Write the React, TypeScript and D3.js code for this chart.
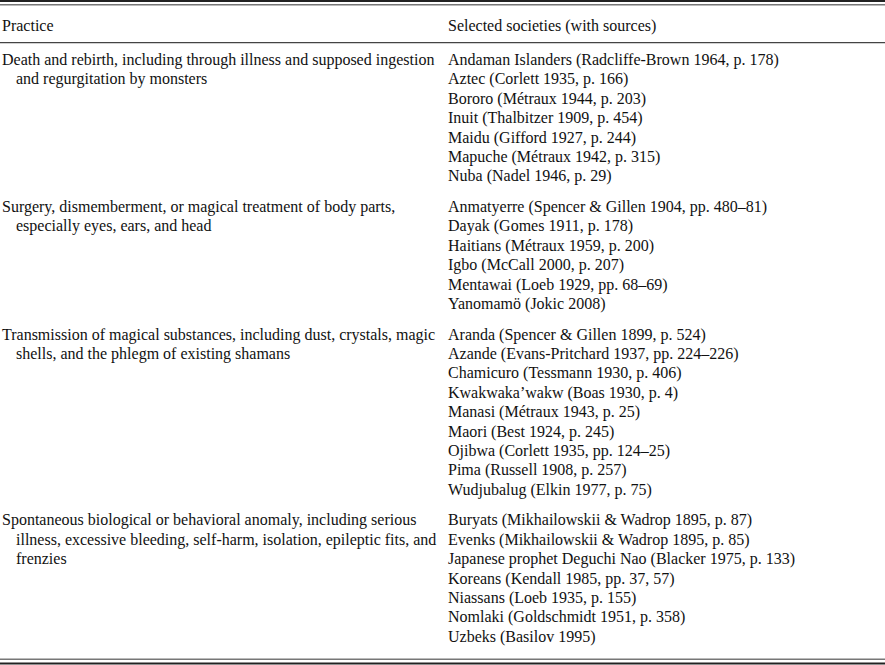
import React, { useEffect, useRef } from 'react'
import * as d3 from 'd3'

const headers = ['Practice', 'Selected societies (with sources)']

const practices = [
  ['Death and rebirth, including through illness and supposed ingestion', 'and regurgitation by monsters'],
  ['Surgery, dismemberment, or magical treatment of body parts,', 'especially eyes, ears, and head'],
  ['Transmission of magical substances, including dust, crystals, magic', 'shells, and the phlegm of existing shamans'],
  ['Spontaneous biological or behavioral anomaly, including serious', 'illness, excessive bleeding, self-harm, isolation, epileptic fits, and', 'frenzies'],
]

const deathRebirth = [
  'Andaman Islanders (Radcliffe-Brown 1964, p. 178)',
  'Aztec (Corlett 1935, p. 166)',
  'Bororo (Métraux 1944, p. 203)',
  'Inuit (Thalbitzer 1909, p. 454)',
  'Maidu (Gifford 1927, p. 244)',
  'Mapuche (Métraux 1942, p. 315)',
  'Nuba (Nadel 1946, p. 29)',
]
const surgery = [
  'Anmatyerre (Spencer & Gillen 1904, pp. 480–81)',
  'Dayak (Gomes 1911, p. 178)',
  'Haitians (Métraux 1959, p. 200)',
  'Igbo (McCall 2000, p. 207)',
  'Mentawai (Loeb 1929, pp. 68–69)',
  'Yanomamö (Jokic 2008)',
]
const transmission = [
  'Aranda (Spencer & Gillen 1899, p. 524)',
  'Azande (Evans-Pritchard 1937, pp. 224–226)',
  'Chamicuro (Tessmann 1930, p. 406)',
  'Kwakwaka’wakw (Boas 1930, p. 4)',
  'Manasi (Métraux 1943, p. 25)',
  'Maori (Best 1924, p. 245)',
  'Ojibwa (Corlett 1935, pp. 124–25)',
  'Pima (Russell 1908, p. 257)',
  'Wudjubalug (Elkin 1977, p. 75)',
]
const anomaly = [
  'Buryats (Mikhailowskii & Wadrop 1895, p. 87)',
  'Evenks (Mikhailowskii & Wadrop 1895, p. 85)',
  'Japanese prophet Deguchi Nao (Blacker 1975, p. 133)',
  'Koreans (Kendall 1985, pp. 37, 57)',
  'Niassans (Loeb 1935, p. 155)',
  'Nomlaki (Goldschmidt 1951, p. 358)',
  'Uzbeks (Basilov 1995)',
]

const societies = [deathRebirth, surgery, transmission, anomaly]

export default function App() {
  const ref = useRef<SVGSVGElement>(null)

  useEffect(() => {
    document.body.style.margin = '0'
    const W = 885, H = 665
    const lineH = 19.4, groupGap = 11.2
    const svg = d3.select(ref.current)
    svg.selectAll('*').remove()

    // running line index per group -> baseline
    const starts: number[] = []
    let n = 0
    societies.forEach(g => { starts.push(n); n += g.length })
    const y = d3.scaleLinear().domain([0, 1]).range([65, 65 + lineH])
    const rowY = (gi: number, li: number) => y(starts[gi] + li) + gi * groupGap

    const x = d3.scalePoint<number>().domain([0, 1]).range([2, 448])

    const g = svg.append('g')
      .attr('font-family', '"Liberation Serif", "Times New Roman", serif')
      .attr('font-size', 16)
      .attr('fill', '#111')

    // rules
    const rule = (yy: number, w: number, c: string) =>
      svg.append('line').attr('x1', 0).attr('x2', W).attr('y1', yy).attr('y2', yy)
        .attr('stroke', c).attr('stroke-width', w)
    rule(1, 2, '#222')
    rule(4.8, 1.6, '#777')
    rule(42.6, 1.2, '#444')
    rule(659.2, 1.6, '#777')
    rule(663.6, 2, '#222')

    g.selectAll('text.hdr').data(headers).enter().append('text')
      .attr('class', 'hdr')
      .attr('x', (_, i) => x(i)!)
      .attr('y', 31)
      .text(d => d)

    practices.forEach((lines, gi) => {
      g.selectAll(null).data(lines).enter().append('text')
        .attr('x', (_, i) => x(0)! + (i > 0 ? 14 : 0))
        .attr('y', (_, i) => rowY(gi, i))
        .text(d => d)
    })

    societies.forEach((list, gi) => {
      g.selectAll(null).data(list).enter().append('text')
        .attr('x', x(1)!)
        .attr('y', (_, i) => rowY(gi, i))
        .text(d => d)
    })
  }, [])

  return (
    <svg ref={ref} width={885} height={665} style={{ display: 'block', background: '#fff' }} />
  )
}
